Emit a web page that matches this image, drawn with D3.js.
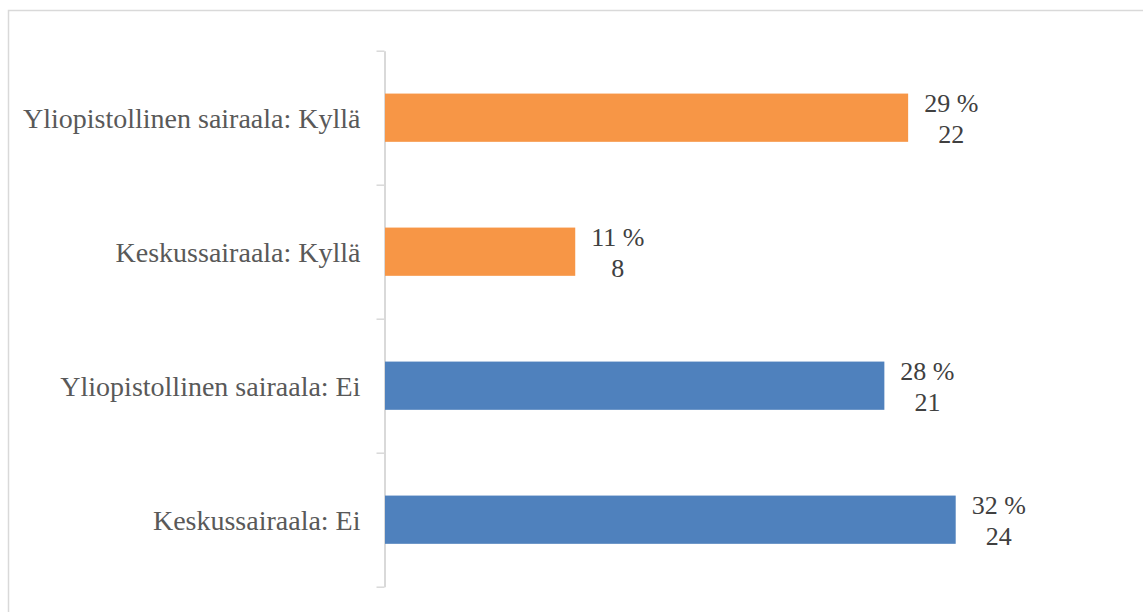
<!DOCTYPE html>
<html>
<head>
<meta charset="utf-8">
<script src="https://cdn.jsdelivr.net/npm/d3@7"></script>
<style>
  html, body { margin: 0; padding: 0; background: #fff; }
  svg { display: block; }
  svg text { font-family: "Liberation Serif", "Times New Roman", Tinos, serif !important; }
</style>
</head>
<body>
<svg id="chart" width="1143" height="612"></svg>
<script>
// Data (top to bottom)
const categories = [
  "Yliopistollinen sairaala: Kyllä",
  "Keskussairaala: Kyllä",
  "Yliopistollinen sairaala: Ei",
  "Keskussairaala: Ei"
];
const counts = [22, 8, 21, 24];
const percentLabels = ["29 %", "11 %", "28 %", "32 %"];
const groups = ["Kyllä", "Kyllä", "Ei", "Ei"];

const colorMap = { "Kyllä": "#F79646", "Ei": "#4F81BD" };

const svg = d3.select("#chart");
const W = 1143, H = 612;

// Outer frame
svg.append("rect")
  .attr("x", 8.5).attr("y", 10.5)
  .attr("width", W + 20).attr("height", H + 20)
  .attr("fill", "none").attr("stroke", "#d9d9d9").attr("stroke-width", 1.5);

const plotLeft = 384.5, plotTop = 50.7, plotBottom = 586.7;

const y = d3.scaleBand()
  .domain(categories)
  .range([plotTop, plotBottom])
  .paddingInner(0.64)
  .paddingOuter(0.32);

const x = d3.scaleLinear()
  .domain([0, 24])
  .range([plotLeft + 0.5, 955.7]);

// Boundary ticks via a linear index scale
const yIdx = d3.scaleLinear().domain([0, categories.length]).range([plotTop, plotBottom]);
const tickAxis = d3.axisLeft(yIdx)
  .tickValues(d3.range(categories.length + 1))
  .tickSize(8)
  .tickSizeOuter(0)
  .tickFormat("");
const gt = svg.append("g").attr("transform", `translate(${plotLeft},0)`).call(tickAxis);
gt.select(".domain").attr("stroke", "#d9d9d9").attr("stroke-width", 2);
gt.selectAll(".tick line").attr("stroke", "#d9d9d9").attr("stroke-width", 1.5);

// Category labels
const labAxis = d3.axisLeft(y).tickSize(0).tickPadding(24);
const gl = svg.append("g").attr("transform", `translate(${plotLeft},0)`).call(labAxis);
gl.attr("font-family", null);
gl.select(".domain").remove();
gl.selectAll(".tick text")
  .attr("font-size", 28)
  .attr("fill", "#595959")
  .attr("dy", "0.35em");

// Bars
const rows = categories.map((c, i) => ({ c, v: counts[i], p: percentLabels[i], g: groups[i] }));
svg.append("g").selectAll("rect").data(rows).join("rect")
  .attr("x", x(0))
  .attr("y", d => y(d.c))
  .attr("width", d => x(d.v) - x(0))
  .attr("height", y.bandwidth())
  .attr("fill", d => colorMap[d.g]);

// Value labels (two lines)
const lg = svg.append("g").selectAll("g").data(rows).join("g");
lg.each(function(d) {
  const g = d3.select(this);
  const cy = y(d.c) + y.bandwidth() / 2;
  const t1 = g.append("text")
    .attr("font-size", 26).attr("fill", "#404040")
    .attr("text-anchor", "middle")
    .attr("y", cy - 5.5)
    .text(d.p);
  const w1 = t1.node().getComputedTextLength();
  const cx = x(d.v) + 16 + w1 / 2;
  t1.attr("x", cx);
  g.append("text")
    .attr("font-size", 26).attr("fill", "#404040")
    .attr("text-anchor", "middle")
    .attr("x", cx).attr("y", cy + 25)
    .text(d.v);
});
</script>
</body>
</html>
